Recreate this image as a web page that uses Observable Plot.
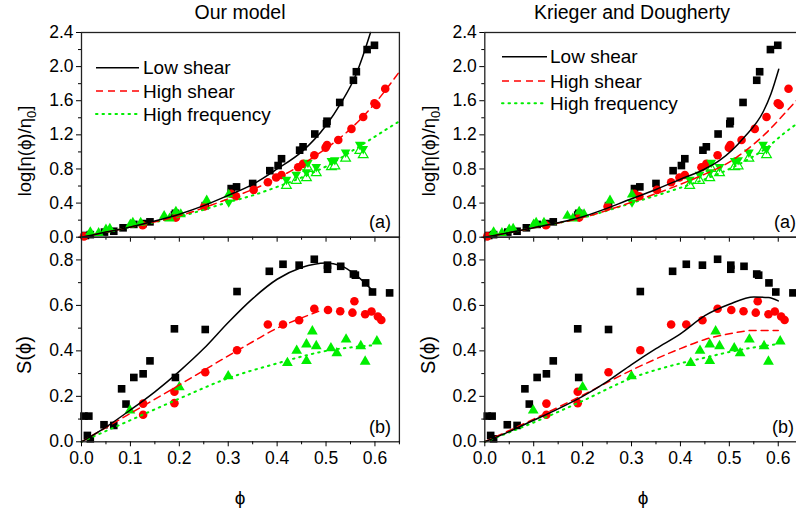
<!DOCTYPE html>
<html><head><meta charset="utf-8">
<script src="https://cdn.jsdelivr.net/npm/d3@7"></script>
<script src="https://cdn.jsdelivr.net/npm/@observablehq/plot@0.6"></script>
<style>
body{margin:0;background:#fff;}
#c{position:relative;width:796px;height:512px;overflow:hidden;background:#fff;font-family:"Liberation Sans",Arial,sans-serif;}
#c svg{position:absolute !important;left:0;top:0;max-width:none !important;background:transparent !important;}
#c svg.panel text{font-size:17.5px !important;font-family:"Liberation Sans",Arial,sans-serif !important;}
</style></head><body><div id="c"></div>
<script>
// ---------- DATA ----------
const xMajor = [0, 0.1, 0.2, 0.3, 0.4, 0.5, 0.6];
const xMinor = [0.05, 0.15, 0.25, 0.35, 0.45, 0.55, 0.65];
const yMajorA = [0, 0.4, 0.8, 1.2, 1.6, 2.0, 2.4];
const yMinorA = [0.2, 0.6, 1.0, 1.4, 1.8, 2.2];
const yMajorB = [0, 0.2, 0.4, 0.6, 0.8];
const yMinorB = [0.1, 0.3, 0.5, 0.7, 0.9];

const titles = ["Our model", "Krieger and Dougherty"];
const seriesNames = ["Low shear", "High shear", "High frequency"];

// experimental log viscosity (panel a) [phi, value]
const sqV = [[0.008,0.02],[0.018,0.03],[0.047,0.06],[0.066,0.07],[0.085,0.11],[0.107,0.15],[0.126,0.16],[0.140,0.18],[0.190,0.26],[0.192,0.28],[0.253,0.37],[0.306,0.57],[0.317,0.59],[0.350,0.63],[0.385,0.78],[0.402,0.84],[0.409,0.92],[0.446,1.02],[0.453,1.06],[0.477,1.21],[0.501,1.33],[0.502,1.36],[0.528,1.58],[0.556,1.84],[0.562,1.94],[0.584,2.20],[0.599,2.25]];
const circV = [[0.005,0.01],[0.125,0.14],[0.193,0.23],[0.251,0.36],[0.306,0.51],[0.316,0.48],[0.352,0.555],[0.381,0.645],[0.398,0.70],[0.409,0.73],[0.443,0.82],[0.453,0.86],[0.476,0.96],[0.499,1.05],[0.502,1.08],[0.525,1.14],[0.552,1.27],[0.576,1.41],[0.599,1.57],[0.603,1.55],[0.621,1.74]];
const triUpV = [[0.018,0.06],[0.035,0.05],[0.050,0.09],[0.058,0.10],[0.100,0.15],[0.105,0.17],[0.121,0.17],[0.169,0.25],[0.180,0.22],[0.193,0.30],[0.203,0.27],[0.256,0.43],[0.301,0.50]];
const triDownV = [[0.301,0.41],[0.419,0.675],[0.439,0.735],[0.460,0.765],[0.463,0.875],[0.480,0.825],[0.511,0.895],[0.518,0.905],[0.540,0.995],[0.569,1.085],[0.576,1.035]];
const triOpenV = [[0.419,0.605],[0.439,0.665],[0.460,0.695],[0.463,0.805],[0.480,0.755],[0.511,0.825],[0.518,0.835],[0.540,0.925],[0.569,1.015],[0.576,0.965]];

// experimental S(phi) (panel b)
const sqS = [[0.005,0.113],[0.015,0.113],[0.012,0.028],[0.018,0.013],[0.046,0.075],[0.066,0.072],[0.082,0.233],[0.091,0.166],[0.107,0.283],[0.126,0.299],[0.140,0.356],[0.190,0.497],[0.192,0.283],[0.253,0.494],[0.318,0.661],[0.384,0.750],[0.412,0.781],[0.445,0.777],[0.476,0.803],[0.503,0.777],[0.503,0.759],[0.530,0.772],[0.556,0.738],[0.560,0.733],[0.581,0.699],[0.595,0.659],[0.630,0.655]];
const circS = [[0.126,0.168],[0.126,0.119],[0.190,0.220],[0.190,0.170],[0.253,0.306],[0.318,0.403],[0.381,0.516],[0.412,0.516],[0.445,0.535],[0.476,0.585],[0.504,0.580],[0.529,0.574],[0.554,0.568],[0.558,0.618],[0.580,0.561],[0.593,0.573],[0.606,0.551],[0.613,0.536]];
const triS = [[0.099,0.138],[0.200,0.240],[0.300,0.289],[0.421,0.347],[0.440,0.401],[0.460,0.429],[0.460,0.356],[0.472,0.486],[0.480,0.421],[0.510,0.412],[0.522,0.390],[0.541,0.450],[0.571,0.421],[0.580,0.353],[0.604,0.442]];

// model curves: our model
const lowA_L = [[0,0],[0.05,0.06],[0.1,0.12],[0.15,0.19],[0.2,0.27],[0.25,0.37],[0.3,0.49],[0.35,0.62],[0.4,0.80],[0.45,1.00],[0.5,1.31],[0.53,1.57],[0.56,1.89],[0.575,2.12],[0.591,2.4]];
const highA_L = [[0,0],[0.1,0.12],[0.2,0.25],[0.3,0.45],[0.35,0.56],[0.4,0.69],[0.45,0.85],[0.5,1.04],[0.55,1.27],[0.6,1.57],[0.65,1.94]];
const freqA_L = [[0,0],[0.1,0.12],[0.2,0.24],[0.3,0.41],[0.35,0.49],[0.4,0.59],[0.45,0.70],[0.5,0.83],[0.55,1.00],[0.6,1.18],[0.65,1.36]];
const lowB_L = [[0,0],[0.05,0.065],[0.1,0.14],[0.15,0.22],[0.2,0.31],[0.25,0.41],[0.3,0.525],[0.35,0.63],[0.4,0.715],[0.45,0.767],[0.5,0.787],[0.53,0.775],[0.56,0.735],[0.595,0.665]];
const highB_L = [[0,0],[0.1,0.125],[0.2,0.25],[0.3,0.378],[0.35,0.44],[0.4,0.5],[0.45,0.545],[0.49,0.578]];
const freqB_L = [[0,0],[0.1,0.095],[0.2,0.19],[0.3,0.28],[0.4,0.345],[0.45,0.375],[0.5,0.40],[0.55,0.415],[0.6,0.425]];

// model curves: Krieger and Dougherty
const lowA_R = [[0,0],[0.1,0.11],[0.2,0.24],[0.3,0.45],[0.35,0.56],[0.4,0.68],[0.45,0.80],[0.48,0.90],[0.53,1.17],[0.57,1.48],[0.585,1.68],[0.601,1.97]];
const highA_R = [[0,0],[0.1,0.11],[0.2,0.23],[0.3,0.41],[0.4,0.62],[0.45,0.74],[0.5,0.88],[0.53,1.0],[0.575,1.22],[0.605,1.4],[0.632,1.57],[0.65,1.68]];
const freqA_R = [[0,0],[0.1,0.11],[0.2,0.23],[0.3,0.40],[0.4,0.58],[0.45,0.68],[0.5,0.80],[0.55,0.95],[0.577,1.05],[0.608,1.2],[0.65,1.38]];
const lowB_R = [[0,0],[0.05,0.045],[0.1,0.095],[0.15,0.145],[0.2,0.2],[0.25,0.265],[0.3,0.34],[0.35,0.41],[0.4,0.475],[0.45,0.555],[0.5,0.605],[0.55,0.637],[0.58,0.635],[0.6,0.62]];
const highB_R = [[0,0],[0.1,0.1],[0.2,0.205],[0.3,0.315],[0.4,0.41],[0.45,0.45],[0.5,0.475],[0.55,0.49],[0.6,0.49]];
const freqB_R = [[0,0],[0.1,0.085],[0.2,0.18],[0.3,0.28],[0.4,0.345],[0.45,0.37],[0.5,0.395],[0.55,0.415],[0.6,0.43]];

// ---------- LAYOUT / STYLE ----------
const FONT = '"Liberation Sans", Arial, sans-serif';
const BLACK = "#000000", RED = "#ff0000", GREEN = "#00ee00";
const H = 512;
const COLS = [{left: 81, right: 398.9, width: 796}, {left: 484.3, right: 802.2, width: 810}];
const ROWS = [{top: 32, bottom: 236.7}, {top: 236.7, bottom: 441.3}];
const container = document.getElementById("c");

const triDownSymbol = {
  draw(ctx, size) {
    const s3 = Math.sqrt(3);
    const y = Math.sqrt(size / (s3 * 3));
    ctx.moveTo(0, 2 * y);
    ctx.lineTo(-s3 * y, -y);
    ctx.lineTo(s3 * y, -y);
    ctx.closePath();
  }
};
const X = d => d[0], Y = d => d[1];

function curveMarks(low, high, freq) {
  return [
    Plot.line(freq, {x: X, y: Y, stroke: GREEN, strokeWidth: 2, strokeDasharray: "1.5,5", strokeLinecap: "round", curve: "monotone-x"}),
    Plot.line(high, {x: X, y: Y, stroke: RED, strokeWidth: 1.5, strokeDasharray: "7,5", curve: "monotone-x"}),
    Plot.line(low, {x: X, y: Y, stroke: BLACK, strokeWidth: 1.5, curve: "monotone-x"})
  ];
}

function panel(col, row, yDomain, yMajor, yMinor, xLabels, marks) {
  const c = COLS[col], r = ROWS[row];
  const svg = Plot.plot({
    width: c.width, height: H,
    marginLeft: c.left, marginRight: c.width - c.right,
    marginTop: r.top, marginBottom: H - r.bottom,
    x: {domain: [0, 0.65]},
    y: {domain: yDomain},
    style: {fontFamily: FONT, fontSize: "17.5px", color: "#000", overflow: "visible"},
    marks: [
      ...marks,
      Plot.frame({stroke: "#222", strokeWidth: 1.3}),
      Plot.axisY(yMajor, {tickSize: 5, tickPadding: 3, tickFormat: d3.format(".1f"), label: null, fontSize: 17.5}),
      Plot.axisY(yMinor, {tickSize: 3, tickFormat: () => "", label: null}),
      Plot.axisX(xMajor, {tickSize: 5, tickPadding: 5, tickFormat: xLabels ? d3.format(".1f") : () => "", label: null, fontSize: 17.5}),
      Plot.axisX(xMinor, {tickSize: 3, tickFormat: () => "", label: null})
    ]
  });
  svg.classList.add("panel");
  svg.style.background = "transparent";
  svg.style.maxWidth = "none";
  container.appendChild(svg);
}

function viscMarks() {
  return [
    Plot.dot(sqV, {x: X, y: Y, symbol: "square", r: 4.3, fill: BLACK}),
    Plot.dot(circV, {x: X, y: Y, symbol: "circle", r: 4.3, fill: RED}),
    Plot.dot(triUpV, {x: X, y: Y, symbol: "triangle", r: 3.8, fill: GREEN}),
    Plot.dot(triOpenV, {x: X, y: Y, symbol: "triangle", r: 3.6, fill: "white", stroke: GREEN, strokeWidth: 1.2}),
    Plot.dot(triDownV, {x: X, y: Y, symbol: triDownSymbol, r: 3.6, fill: GREEN})
  ];
}
function sMarks() {
  return [
    Plot.dot(sqS, {x: X, y: Y, symbol: "square", r: 4.3, fill: BLACK}),
    Plot.dot(circS, {x: X, y: Y, symbol: "circle", r: 4.3, fill: RED}),
    Plot.dot(triS, {x: X, y: Y, symbol: "triangle", r: 4, fill: GREEN})
  ];
}

panel(0, 0, [0, 2.4], yMajorA, yMinorA, false, [...viscMarks(), ...curveMarks(lowA_L, highA_L, freqA_L)]);
panel(0, 1, [0, 0.9], yMajorB, yMinorB, true, [...sMarks(), ...curveMarks(lowB_L, highB_L, freqB_L)]);
panel(1, 0, [0, 2.4], yMajorA, yMinorA, false, [...viscMarks(), ...curveMarks(lowA_R, highA_R, freqA_R)]);
panel(1, 1, [0, 0.9], yMajorB, yMinorB, true, [...sMarks(), ...curveMarks(lowB_R, highB_R, freqB_R)]);

// ---------- TEXT OVERLAY ----------
const ov = d3.create("svg").attr("width", 796).attr("height", H)
  .style("font-family", FONT).style("position", "absolute").style("left", 0).style("top", 0);

const titleX = [240, 632];
titles.forEach((t, i) => ov.append("text").attr("x", titleX[i]).attr("y", 19)
  .attr("text-anchor", "middle").attr("font-size", 19.5).text(t));

const yTitleX = [24, 428];
yTitleX.forEach(x => {
  const t1 = ov.append("text").attr("transform", `translate(${x + 7},151) rotate(-90)`)
    .attr("text-anchor", "middle").attr("font-size", 18.5);
  t1.append("tspan").text("log[η(ϕ)/η");
  t1.append("tspan").attr("font-size", 13).attr("dy", 5).text("0");
  t1.append("tspan").attr("dy", -5).text("]");
  ov.append("text").attr("transform", `translate(${x + 7},355) rotate(-90)`)
    .attr("text-anchor", "middle").attr("font-size", 20).text("S(ϕ)");
});

const phiX = [240, 643];
phiX.forEach(x => ov.append("text").attr("x", x).attr("y", 504)
  .attr("text-anchor", "middle").attr("font-size", 19).text("ϕ"));

[380, 785].forEach(x => {
  ov.append("text").attr("x", x).attr("y", 228).attr("text-anchor", "middle").attr("font-size", 18).text("(a)");
  ov.append("text").attr("x", x - (x > 500 ? 2 : 0)).attr("y", 433).attr("text-anchor", "middle").attr("font-size", 18).text("(b)");
});

// legends
const legends = [{x0: 96, x1: 139, tx: 143, ys: [67.7, 91, 114]}, {x0: 502, x1: 547, tx: 550, ys: [56.7, 81, 103.3]}];
const legStyles = [
  {stroke: BLACK, dash: null, w: 1.5},
  {stroke: RED, dash: "7,5", w: 1.5},
  {stroke: GREEN, dash: "1.5,5", w: 2}
];
legends.forEach(L => {
  seriesNames.forEach((name, i) => {
    const s = legStyles[i];
    const ln = ov.append("line").attr("x1", L.x0).attr("x2", L.x1).attr("y1", L.ys[i]).attr("y2", L.ys[i])
      .attr("stroke", s.stroke).attr("stroke-width", s.w);
    if (s.dash) ln.attr("stroke-dasharray", s.dash);
    if (i === 2) ln.attr("stroke-linecap", "round");
    ov.append("text").attr("x", L.tx).attr("y", L.ys[i] + 6.5).attr("font-size", 19).text(name);
  });
});

container.appendChild(ov.node());
</script>
</body></html>
